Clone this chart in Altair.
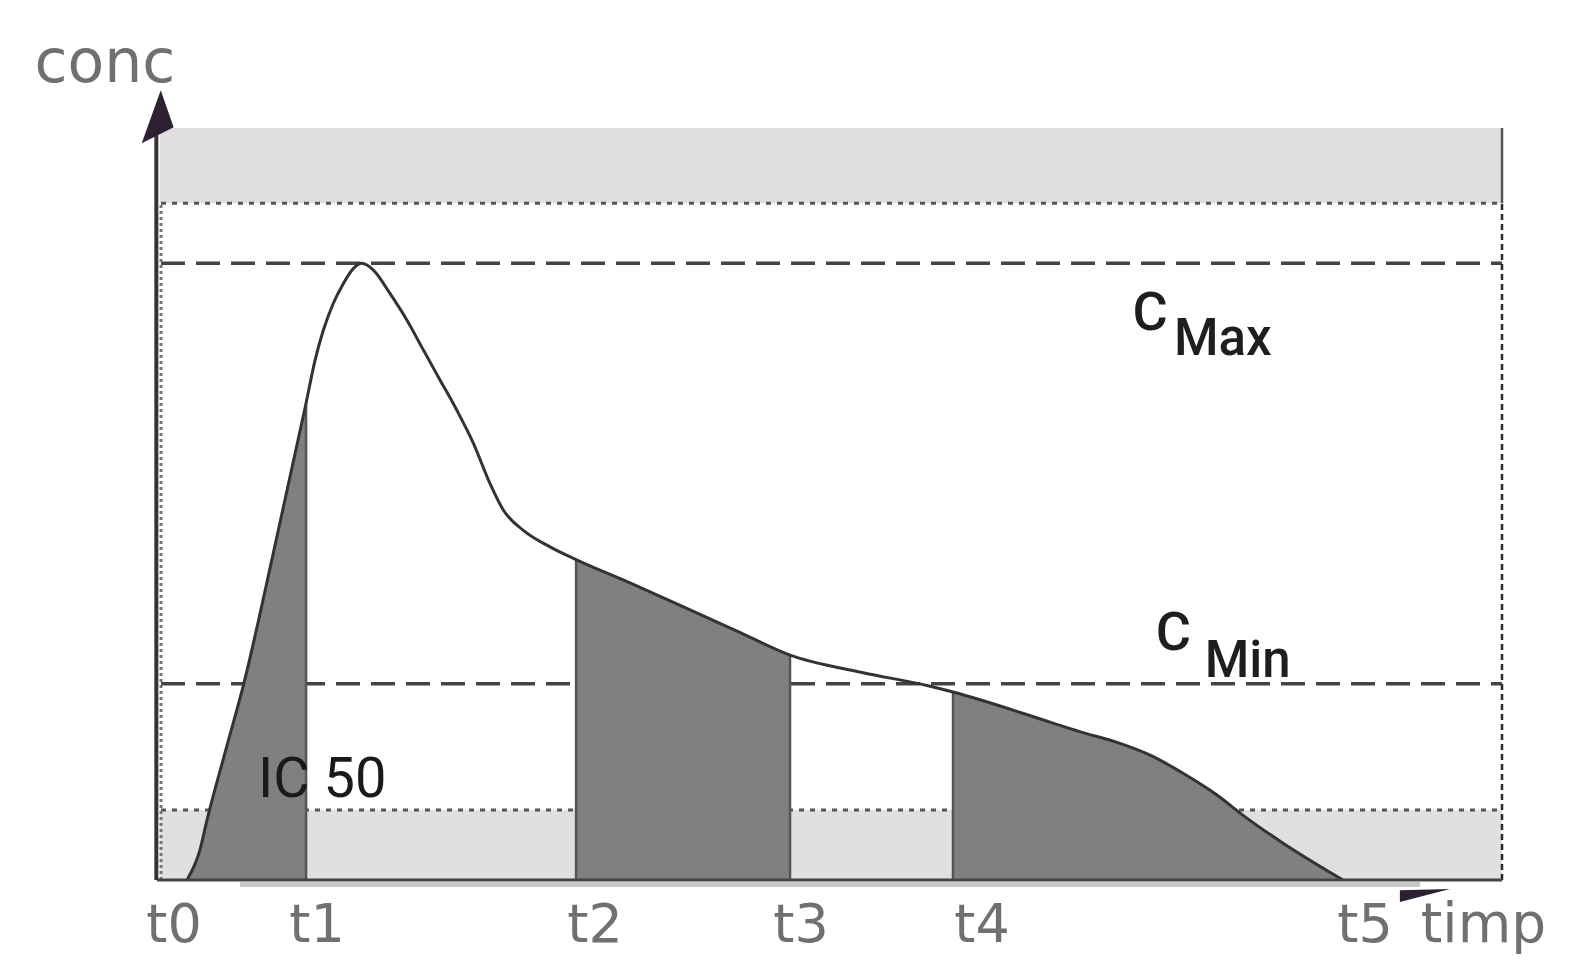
import altair as alt
import pandas as pd

# ---------------- data ----------------
curve_t = [2.24, 3.21, 3.74, 5.08, 6.43, 8.82, 11.14, 11.81, 12.43, 13.18, 13.92,
           14.67, 15.30, 16.17, 17.41, 18.66, 19.90, 21.15, 22.40, 23.64, 24.89,
           25.88, 27.38, 29.37, 31.32, 35.35, 39.39, 43.35, 47.31, 52.69, 57.70,
           59.49, 66.74, 69.21, 71.75, 74.22, 76.68, 79.22, 81.17, 84.16, 88.64]
curve_c = [0.0, 4.0, 8.0, 16.9, 25.7, 44.5, 63.4, 69.1, 73.1, 76.7, 79.3,
           81.3, 82.0, 81.1, 78.0, 74.5, 70.5, 66.5, 62.5, 58.1, 52.7,
           49.2, 46.5, 44.3, 42.6, 39.5, 36.3, 33.1, 29.9, 27.6, 25.8,
           25.0, 21.0, 19.6, 18.3, 16.6, 14.2, 11.3, 8.6, 4.9, 0.0]

tick_names = ["t0", "t1", "t2", "t3", "t4", "t5"]
tick_times = [0.0, 11.14, 31.32, 47.31, 59.49, 88.64]

c_max = 82.0
c_min = 26.1
upper_limit = 90.0
lower_limit = 9.3
axis_top = 100.0
x_end = 100.52

auc_windows = [(0, 1), (2, 3), (4, 5)]   # indices into tick_times
divider_ticks = [1, 2, 3, 4]

# ---------------- helpers ----------------
PX_X = 13.38   # pixels per x unit
W, H = 1345, 752
xs = alt.Scale(domain=[0, x_end], nice=False, zero=False)
ys = alt.Scale(domain=[0, 100], nice=False, zero=False)


def X(f="x"):
    return alt.X(f"{f}:Q", scale=xs, axis=None)


def Y(f="y"):
    return alt.Y(f"{f}:Q", scale=ys, axis=None, stack=None)


curve = pd.DataFrame({"x": curve_t, "y": curve_c})
lookup = dict(zip(curve_t, curve_c))

# light bands
bands = pd.DataFrame({
    "x": [0.2, 0.2], "x2": [x_end, x_end],
    "y": [upper_limit, 0], "y2": [100, lower_limit],
})

bands_layer = alt.Chart(bands).mark_rect(color="#e0e0e0").encode(
    x=X(), x2="x2:Q", y=Y(), y2="y2:Q")

dotted = alt.Chart(pd.DataFrame({"y": [upper_limit, lower_limit]})).mark_rule(
    color="#555555", strokeWidth=3, strokeDash=[5, 6]).encode(
    y=Y(), x=alt.value(4), x2=alt.value(W))

dashed = alt.Chart(pd.DataFrame({"y": [c_max, c_min]})).mark_rule(
    color="#444444", strokeWidth=3.5, strokeDash=[24, 11]).encode(
    y=Y(), x=alt.value(4), x2=alt.value(W))

area_layers = []
for a, b in auc_windows:
    lo, hi = tick_times[a], tick_times[b]
    seg = pd.DataFrame({
        "x": [t for t in curve_t if lo <= t <= hi],
        "y": [c for t, c in zip(curve_t, curve_c) if lo <= t <= hi],
    })
    area_layers.append(
        alt.Chart(seg).mark_area(
            interpolate="monotone", color="#808080", opacity=1).encode(
            x=X(), y=Y()))

div_df = pd.DataFrame({
    "x": [tick_times[i] for i in divider_ticks],
    "y": [0.0] * len(divider_ticks),
    "y2": [lookup[tick_times[i]] for i in divider_ticks],
})
dividers = alt.Chart(div_df).mark_rule(color="#555555", strokeWidth=2.5).encode(
    x=X(), y=Y(), y2="y2:Q")

curve_line = alt.Chart(curve).mark_line(
    interpolate="monotone", color="#333333", strokeWidth=3).encode(x=X(), y=Y())

# frame
right_dashed = alt.Chart(pd.DataFrame({"x": [x_end], "y": [0], "y2": [upper_limit]})).mark_rule(
    color="#2a2a2a", strokeWidth=2.5, strokeDash=[6, 4]).encode(x=X(), y=Y(), y2="y2:Q")
right_solid = alt.Chart(pd.DataFrame({"x": [x_end], "y": [upper_limit], "y2": [100]})).mark_rule(
    color="#555555", strokeWidth=2.5).encode(x=X(), y=Y(), y2="y2:Q")
left_dotted = alt.Chart(pd.DataFrame({"x": [0.3], "y": [0], "y2": [upper_limit]})).mark_rule(
    color="#777777", strokeWidth=3, strokeDash=[3, 3]).encode(x=X(), y=Y(), y2="y2:Q")

x_shadow = alt.Chart(pd.DataFrame({"x": [6.2], "x2": [94.4], "y": [-0.6]})).mark_rule(
    color="#c8c8c8", strokeWidth=5).encode(x=X(), x2="x2:Q", y=Y())
x_axis = alt.Chart(pd.DataFrame({"x": [0], "x2": [x_end], "y": [0]})).mark_rule(
    color="#444444", strokeWidth=3).encode(x=X(), x2="x2:Q", y=Y())
y_axis = alt.Chart(pd.DataFrame({"x": [-0.05], "y": [0], "y2": [axis_top]})).mark_rule(
    color="#333333", strokeWidth=4).encode(x=X(), y=Y(), y2="y2:Q")

y_arrow = alt.Chart(pd.DataFrame({"x": [0.05], "y": [101.3]})).mark_point(
    shape="M0.11,-1L0.57,0.32L-0.57,0.89Z", size=3136, filled=True,
    color="#2d2030", opacity=1, strokeWidth=0).encode(x=X(), y=Y())
x_arrow = alt.Chart(pd.DataFrame({"x": [94.17], "y": [-1.86]})).mark_point(
    shape="M-0.49,-0.11L0.94,-0.14L-0.49,0.23Z", size=4900, filled=True,
    color="#2d2030", opacity=1, strokeWidth=0).encode(x=X(), y=Y())

# texts
label_dx_px = [17, 11, 19, 11, 29, 22]
tick_df = pd.DataFrame({
    "x": [t + d / PX_X for t, d in zip(tick_times, label_dx_px)],
    "y": [-8.2] * len(tick_names),
    "label": tick_names,
})
tick_text = alt.Chart(tick_df).mark_text(
    font="DejaVu Sans", fontSize=54, color="#707070",
    align="center", baseline="alphabetic").encode(x=X(), y=Y(), text="label:N")

timp_text = alt.Chart(pd.DataFrame({"x": [94.45], "y": [-8.2], "label": ["timp"]})).mark_text(
    font="DejaVu Sans", fontSize=55, color="#707070",
    align="left", baseline="alphabetic").encode(x=X(), y=Y(), text="label:N")

conc_text = alt.Chart(pd.DataFrame({"x": [-3.9], "y": [106.1], "label": ["conc"]})).mark_text(
    font="DejaVu Sans", fontSize=60, color="#707070",
    align="center", baseline="alphabetic").encode(x=X(), y=Y(), text="label:N")

c_df = pd.DataFrame({"x": [72.9, 74.65], "y": [73.1, 30.6], "label": ["C", "C"]})
c_text = alt.Chart(c_df).mark_text(
    font="Roboto", fontSize=54, fontWeight=500, color="#1e1e1e",
    align="left", baseline="alphabetic").encode(x=X(), y=Y(), text="label:N")

sub_df = pd.DataFrame({"x": [76.0, 78.3], "y": [69.8, 27.0], "label": ["Max", "Min"]})
sub_text = alt.Chart(sub_df).mark_text(
    font="Roboto", fontSize=51, fontWeight=500, color="#1e1e1e",
    align="left", baseline="alphabetic").encode(x=X(), y=Y(), text="label:N")

ic_text = alt.Chart(pd.DataFrame({"x": [7.55], "y": [11.0], "label": ["IC 50"]})).mark_text(
    font="Roboto", fontSize=56, color="#1a1a1a",
    align="left", baseline="alphabetic").encode(x=X(), y=Y(), text="label:N")

chart = alt.layer(
    bands_layer, dotted, dashed, *area_layers, dividers, curve_line,
    right_dashed, right_solid, left_dotted, x_shadow, x_axis, y_axis, y_arrow, x_arrow,
    tick_text, timp_text, conc_text, c_text, sub_text, ic_text,
).properties(
    width=W, height=H,
    autosize=alt.AutoSizeParams(type="none"),
    padding={"left": 149, "top": 120, "right": 55, "bottom": 84},
    background="white",
).configure_view(strokeWidth=0)

chart.save("out.html", embed_options={"renderer": "svg", "actions": False})
